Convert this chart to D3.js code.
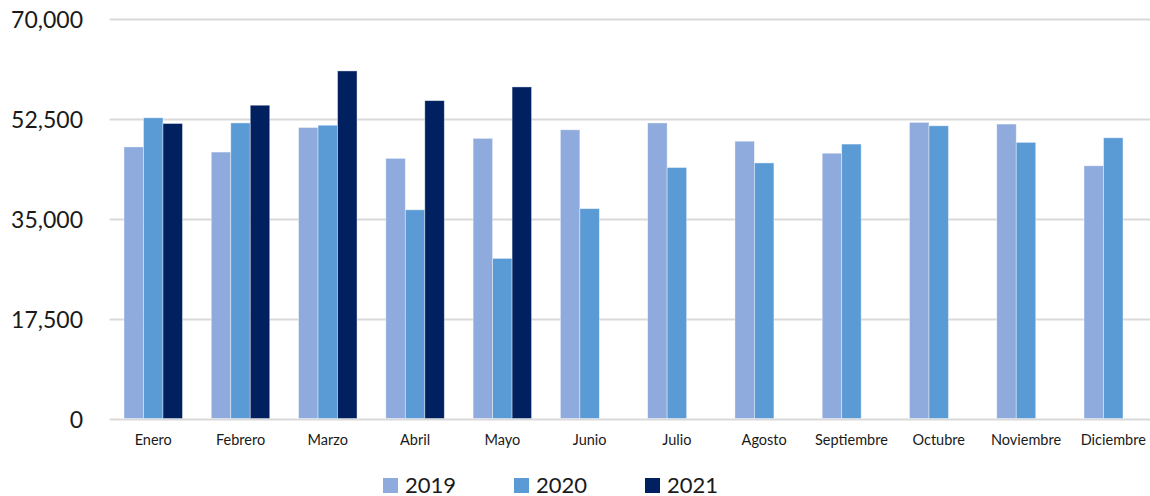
<!DOCTYPE html>
<html>
<head>
<meta charset="utf-8">
<script src="https://cdn.jsdelivr.net/npm/d3@7/dist/d3.min.js"></script>
<style>
  html, body { margin: 0; padding: 0; background: #fff; }
  svg { display: block; font-family: Lato, "Open Sans", sans-serif; }
</style>
</head>
<body>
<svg id="chart" width="1150" height="496"></svg>
<script>
const months = ["Enero","Febrero","Marzo","Abril","Mayo","Junio","Julio","Agosto","Septiembre","Octubre","Noviembre","Diciembre"];
const seriesNames = ["2019","2020","2021"];
const values2019 = [47700, 46800, 51100, 45700, 49200, 50700, 51900, 48700, 46600, 52000, 51700, 44400];
const values2020 = [52800, 51900, 51500, 36700, 28200, 36900, 44100, 44900, 48200, 51400, 48500, 49300];
const values2021 = [51800, 55000, 61000, 55800, 58200, null, null, null, null, null, null, null];
const yTicks = [0, 17500, 35000, 52500, 70000];
const colors = ["#8FAADC", "#5B9BD5", "#002060"];

const seriesValues = [values2019, values2020, values2021];
const svg = d3.select("#chart");

const plotLeft = 109.6, plotRight = 1156.9, yTop = 19.5, yBottom = 419.5;

const x = d3.scaleBand().domain(months).range([plotLeft, plotRight])
  .paddingInner(0.33).paddingOuter(0.165);
const xs = d3.scaleBand().domain(seriesNames).range([0, x.bandwidth()]).padding(0);
const y = d3.scaleLinear().domain([0, 70000]).range([yBottom, yTop]);

// gridlines
svg.append("g").selectAll("line").data(yTicks).join("line")
  .attr("x1", plotLeft).attr("x2", 1150)
  .attr("y1", d => y(d)).attr("y2", d => y(d))
  .attr("stroke", "#d9d9d9").attr("stroke-width", 2);

// y labels
const yAxis = d3.axisLeft(y).tickValues(yTicks).tickSize(0).tickPadding(0)
  .tickFormat(d3.format(","));
const gy = svg.append("g").attr("transform", "translate(83,0)").call(yAxis);
gy.select(".domain").remove();
gy.selectAll("text").attr("font-size", "23px").attr("fill", "#1a1a1a")
  .attr("font-family", "Lato, sans-serif").attr("dy", "0.35em");

// bars
const data = [];
months.forEach((m, i) => {
  seriesNames.forEach((s, j) => {
    const v = seriesValues[j][i];
    if (v != null) data.push({ m, s, v, j });
  });
});
svg.append("g").selectAll("rect").data(data).join("rect")
  .attr("x", d => x(d.m) + xs(d.s))
  .attr("width", xs.bandwidth())
  .attr("y", d => y(d.v))
  .attr("height", d => y(0) - 1 - y(d.v))
  .attr("fill", d => colors[d.j])
  .attr("stroke", "#ffffff").attr("stroke-opacity", 0.5).attr("stroke-width", 0.8);

// x labels
const xAxis = d3.axisBottom(x).tickSize(0).tickPadding(0);
const gx = svg.append("g").attr("transform", "translate(0,445)").call(xAxis);
gx.select(".domain").remove();
gx.selectAll("text").attr("font-size", "14.5px").attr("fill", "#1a1a1a")
  .attr("font-family", "Lato, sans-serif").attr("dy", "0");

// legend
const legendX = [383, 514, 645];
const lg = svg.append("g").selectAll("g").data(seriesNames).join("g")
  .attr("transform", (d, i) => `translate(${legendX[i]},478)`);
lg.append("rect").attr("width", 15).attr("height", 15).attr("fill", (d, i) => colors[i]);
lg.append("text").attr("x", 22).attr("y", 14.5).text(d => d)
  .attr("font-size", "22px").attr("fill", "#1a1a1a");
</script>
</body>
</html>
